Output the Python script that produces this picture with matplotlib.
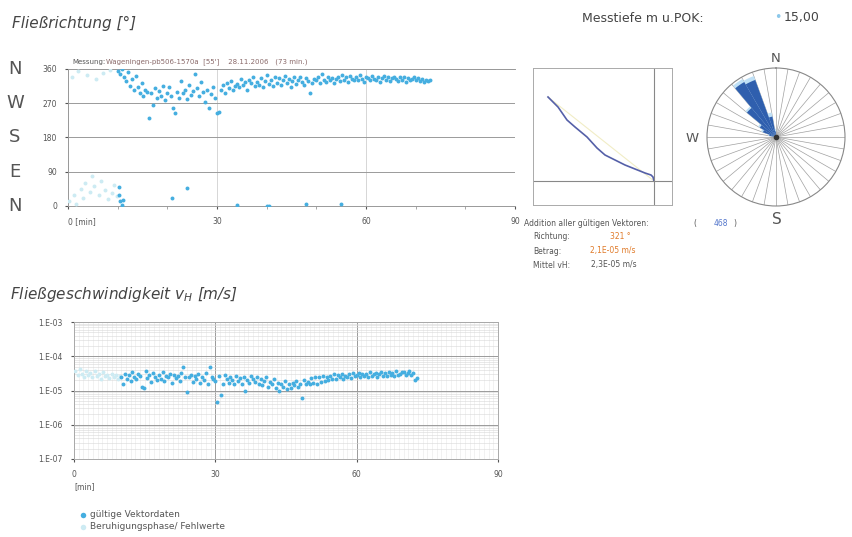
import numpy as np
import matplotlib.pyplot as plt
from matplotlib.ticker import MultipleLocator, LogLocator, NullFormatter

W, H = 853, 537


def fx(x):
    return x / W


def fy(y):
    return 1 - y / H


# ---- Daten: Messzeitpunkte [min] der gueltigen Vektoren
t_valid = [10.0, 10.4, 10.8, 11.2, 11.6, 12.0, 12.4, 12.8, 13.2, 13.6,
           14.0, 14.4, 14.8, 15.2, 15.6, 16.0, 16.4, 16.8, 17.2, 17.6,
           18.0, 18.4, 18.8, 19.2, 19.6, 20.0, 20.4, 20.8, 21.2, 21.6,
           22.0, 22.4, 22.8, 23.2, 23.6, 24.0, 24.4, 24.8, 25.2, 25.6,
           26.0, 26.4, 26.8, 27.2, 27.6, 28.0, 28.4, 28.8, 29.2, 29.6,
           30.0, 30.4, 30.8, 31.2, 31.6, 32.0, 32.4, 32.8, 33.2, 33.6,
           34.0, 34.4, 34.8, 35.2, 35.6, 36.0, 36.4, 36.8, 37.2, 37.6,
           38.0, 38.4, 38.8, 39.2, 39.6, 40.0, 40.4, 40.8, 41.2, 41.6,
           42.0, 42.4, 42.8, 43.2, 43.6, 44.0, 44.4, 44.8, 45.2, 45.6,
           46.0, 46.4, 46.8, 47.2, 47.6, 48.0, 48.4, 48.8, 49.2, 49.6,
           50.0, 50.4, 50.8, 51.2, 51.6, 52.0, 52.4, 52.8, 53.2, 53.6,
           54.0, 54.4, 54.8, 55.2, 55.6, 56.0, 56.4, 56.8, 57.2, 57.6,
           58.0, 58.4, 58.8, 59.2, 59.6, 60.0, 60.4, 60.8, 61.2, 61.6,
           62.0, 62.4, 62.8, 63.2, 63.6, 64.0, 64.4, 64.8, 65.2, 65.6,
           66.0, 66.4, 66.8, 67.2, 67.6, 68.0, 68.4, 68.8, 69.2, 69.6,
           70.0, 70.4, 70.8, 71.2, 71.6, 72.0, 72.4, 72.8]

# Fliessrichtung [deg]
dir_valid = [355, 346, 360, 338, 328, 352, 316, 334, 304, 342,
             312, 296, 322, 288, 305, 300, 232, 296, 265, 310,
             284, 302, 290, 316, 278, 298, 312, 288, 258, 245,
             300, 285, 328, 296, 306, 280, 318, 292, 302, 348,
             310, 288, 326, 300, 274, 306, 258, 295, 314, 284,
             245, 248, 305, 318, 296, 322, 310, 328, 304, 316,
             320, 312, 334, 318, 326, 306, 330, 322, 340, 316,
             326, 318, 336, 312, 328, 344, 320, 332, 316, 338,
             324, 336, 318, 330, 342, 322, 334, 312, 328, 338,
             320, 332, 340, 326, 318, 336, 328, 298, 322, 334,
             330, 338, 324, 346, 332, 326, 340, 330, 336, 322,
             334, 340, 328, 344, 332, 338, 326, 342, 334, 330,
             338, 330, 344, 334, 326, 340, 336, 330, 342, 334,
             332, 340, 326, 336, 342, 330, 338, 328, 336, 340,
             334, 328, 338, 332, 340, 326, 336, 330, 334, 338,
             330, 336, 328, 334, 326, 332, 328, 330]

# Fliessgeschwindigkeit [1e-5 m/s]
vel_valid = [2.4, 1.6, 3.0, 2.2, 2.8, 1.9, 3.4, 2.5, 2.1, 3.1,
             2.6, 1.3, 1.2, 3.6, 2.3, 2.9, 1.8, 3.3, 2.5, 2.0,
             2.9, 2.2, 3.5, 1.9, 2.7, 2.4, 3.1, 1.7, 2.8, 2.3,
             2.6, 1.9, 3.2, 5.0, 2.4, 0.9, 2.4, 2.9, 1.8, 2.6,
             2.1, 3.0, 1.7, 2.5, 2.0, 3.2, 1.5, 5.0, 2.4, 2.2,
             1.9, 0.45, 2.6, 0.75, 1.5, 2.9, 2.1, 1.7, 2.5, 2.0,
             1.6, 2.7, 1.9, 2.3, 1.5, 2.4, 0.95, 2.0, 1.7, 2.6,
             2.1, 1.8, 2.5, 1.5, 2.2, 1.4, 1.9, 2.4, 1.3, 1.8,
             1.5, 2.1, 1.2, 1.7, 1.0, 1.6, 1.3, 1.9, 1.1, 1.5,
             1.2, 1.7, 1.4, 1.9, 1.3, 1.6, 0.6, 2.0, 1.5, 1.8,
             1.5, 2.3, 1.7, 2.5, 1.6, 2.4, 1.8, 2.6, 1.9, 2.5,
             2.0, 2.7, 2.2, 3.0, 2.1, 2.8, 2.4, 3.1, 2.2, 2.7,
             2.4, 3.1, 2.3, 3.2, 2.6, 2.9, 3.3, 2.4, 3.0, 2.6,
             3.1, 2.5, 3.4, 2.6, 3.0, 3.3, 2.5, 3.1, 3.5, 2.7,
             3.2, 2.6, 3.5, 2.8, 3.3, 2.7, 3.6, 2.9, 3.1, 3.4,
             3.5, 2.8, 3.3, 3.6, 2.9, 3.2, 2.0, 2.3]

# gueltige Vektoren mit Richtung knapp ueber 0 deg
t_wrap = [10.2, 10.3, 10.5, 10.9, 11.1, 21.0, 24.0, 34.0, 40.0, 40.5, 48.0, 55.0]
dir_wrap = [50, 28, 12, 3, 17, 20, 46, 3, 1, 1, 4, 4]

# Beruhigungsphase / Fehlwerte
t_calm = [0.3, 0.8, 1.2, 1.7, 2.1, 2.6, 3.0, 3.5, 3.9, 4.4, 4.8,
          5.3, 5.7, 6.2, 6.6, 7.1, 7.5, 8.0, 8.4, 8.9, 9.3, 9.8]
dir_calm = [12, 340, 30, 5, 355, 45, 22, 60, 345, 38, 78,
            52, 335, 28, 65, 350, 42, 18, 358, 35, 55, 25]
vel_calm = [3.6, 2.8, 4.2, 3.1, 2.5, 3.8, 2.9, 3.3, 2.4, 3.6, 2.7,
            3.0, 2.2, 3.4, 2.6, 2.9, 2.3, 3.1, 2.5, 2.8, 2.1, 2.6]

# Richtungsrose (10 deg Klassen, relative Haeufigkeit)
rose_bins = [285, 295, 305, 315, 325, 335, 345, 355]
rose_valid = [0.10, 0.20, 0.27, 0.55, 0.92, 0.88, 0.30, 0.08]
rose_all = [0.12, 0.23, 0.30, 0.58, 0.97, 0.94, 0.36, 0.12]

# Progressives Vektordiagramm (Summe aller gueltigen Vektoren)
path_x = [0, -1, -3, -9, -19, -29, -39, -49, -57, -67, -79, -87, -96, -106]
path_y = [0, 4, 6, 8, 12, 16, 21, 26, 33, 44, 54, 61, 74, 84]

grey = '#555555'
blue = '#45aee0'
calm = '#cdebf3'

fig = plt.figure(figsize=(W / 100, H / 100), dpi=100)
fig.patch.set_facecolor('white')

# ---- Fliessrichtung
ax1 = fig.add_axes([fx(68), fy(206), fx(515) - fx(68), (206 - 69) / H])
ax1.scatter(t_calm, dir_calm, s=8, color=calm, lw=0, zorder=3)
ax1.scatter(t_valid, dir_valid, s=8, color=blue, lw=0, zorder=4)
ax1.scatter(t_wrap, dir_wrap, s=8, color=blue, lw=0, zorder=4)
ax1.set_xlim(0, 90)
ax1.set_ylim(0, 360)
ax1.set_yticks([0, 90, 180, 270, 360])
ax1.set_xticks([0, 30, 60, 90])
ax1.set_xticklabels(['0 [min]', '30', '60', '90'])
ax1.get_xticklabels()[0].set_ha('left')
ax1.xaxis.set_minor_locator(MultipleLocator(10))
ax1.tick_params(labelsize=5.5, colors=grey, length=2, pad=6)
ax1.tick_params(which='minor', length=2, color='#999999')
ax1.yaxis.grid(True, color='#9a9a9a', lw=0.7)
ax1.xaxis.grid(True, color='#d0d0d0', lw=0.6)
ax1.set_axisbelow(True)
for side in ['left', 'bottom', 'top']:
    ax1.spines[side].set_color('#999999')
    ax1.spines[side].set_linewidth(0.7)
ax1.spines['right'].set_visible(False)
for val, letter in zip([360, 270, 180, 90, 0], 'NWSEN'):
    ax1.annotate(letter, xy=(fx(15), val), xycoords=('figure fraction', 'data'),
                 ha='center', va='center', fontsize=13, color=grey)

fig.text(fx(12), fy(23), 'Fließrichtung [°]', fontsize=11, style='italic',
         color='#444444', va='center')
fig.text(fx(72), fy(62), 'Messung:', fontsize=5, color=grey, va='center')
fig.text(fx(106), fy(62), "Wageningen-pb506-1570a  [55']    28.11.2006   (73 min.)",
         fontsize=5, color='#8a6a6a', va='center')

# ---- Vektorsumme
ax2 = fig.add_axes([fx(533), fy(205), (672 - 533) / W, (205 - 68) / H])
ax2.plot([0, path_x[-1]], [0, path_y[-1]], color='#f1edc6', lw=0.8)
ax2.plot(path_x, path_y, color='#5560a8', lw=1.2)
ax2.axhline(0, color='#888888', lw=0.8)
ax2.axvline(0, color='#888888', lw=0.8)
ax2.set_xlim(-121, 18)
ax2.set_ylim(-24, 113)
ax2.set_xticks([])
ax2.set_yticks([])
for sp in ax2.spines.values():
    sp.set_color('#aaaaaa')
    sp.set_linewidth(0.7)

fig.text(fx(524), fy(223), 'Addition aller gültigen Vektoren:', fontsize=5.5,
         color=grey, va='center')
fig.text(fx(693), fy(223), '(', fontsize=5.5, color=grey, va='center')
fig.text(fx(714), fy(223), '468', fontsize=5.5, color='#5577cc', va='center')
fig.text(fx(733), fy(223), ')', fontsize=5.5, color=grey, va='center')
fig.text(fx(533), fy(237), 'Richtung:', fontsize=5.5, color=grey, va='center')
fig.text(fx(610), fy(237), '321 °', fontsize=5.5, color='#e07b2a', va='center')
fig.text(fx(533), fy(251), 'Betrag:', fontsize=5.5, color=grey, va='center')
fig.text(fx(590), fy(251), '2,1E-05 m/s', fontsize=5.5, color='#e07b2a', va='center')
fig.text(fx(533), fy(265), 'Mittel vH:', fontsize=5.5, color=grey, va='center')
fig.text(fx(591), fy(265), '2,3E-05 m/s', fontsize=5.5, color=grey, va='center')

# ---- Richtungsrose
ax3 = fig.add_axes([fx(707), fy(206), 138 / W, 138 / H], projection='polar')
ax3.set_theta_zero_location('N')
ax3.set_theta_direction(-1)
ax3.bar(np.deg2rad(rose_bins), rose_all, width=np.deg2rad(10), color='#bfe0f6',
        edgecolor='none', zorder=2)
ax3.bar(np.deg2rad(rose_bins), rose_valid, width=np.deg2rad(10), color='#2f5fae',
        edgecolor='none', zorder=3)
ax3.plot(0, 0, 'o', color='#333333', ms=3, zorder=4)
ax3.set_ylim(0, 1)
ax3.set_xticks(np.deg2rad(np.arange(0, 360, 10)))
ax3.set_xticklabels([])
ax3.set_yticks([])
ax3.xaxis.grid(True, color='#a0a0a0', lw=0.5)
ax3.spines['polar'].set_color('#888888')
ax3.spines['polar'].set_linewidth(0.8)
fig.text(fx(776), fy(58), 'N', fontsize=9.5, color=grey, ha='center', va='center')
fig.text(fx(777), fy(220), 'S', fontsize=11, color=grey, ha='center', va='center')
fig.text(fx(692), fy(138), 'W', fontsize=9.5, color=grey, ha='center', va='center')

fig.text(fx(582), fy(18), 'Messtiefe m u.POK:', fontsize=9, color='#444444', va='center')
fig.text(fx(778), fy(18), '•', fontsize=9, color='#8cc8ea', ha='center', va='center')
fig.text(fx(784), fy(18), '15,00', fontsize=9, color='#444444', va='center')

# ---- Fliessgeschwindigkeit
ax4 = fig.add_axes([fx(74), fy(459), (498 - 74) / W, (459 - 322) / H])
ax4.set_yscale('log')
p_calm = ax4.scatter(t_calm, np.array(vel_calm) * 1e-5, s=8, color=calm, lw=0, zorder=3)
p_valid = ax4.scatter(t_valid, np.array(vel_valid) * 1e-5, s=8, color=blue, lw=0, zorder=4)
ax4.set_xlim(0, 90)
ax4.set_ylim(1e-7, 1e-3)
ax4.set_yticks([1e-7, 1e-6, 1e-5, 1e-4, 1e-3])
ax4.set_yticklabels(['1.E-07', '1.E-06', '1.E-05', '1.E-04', '1.E-03'])
ax4.yaxis.set_minor_locator(LogLocator(base=10, subs=range(2, 10)))
ax4.yaxis.set_minor_formatter(NullFormatter())
ax4.set_xticks([0, 30, 60, 90])
ax4.xaxis.set_minor_locator(MultipleLocator(1))
ax4.tick_params(labelsize=5.5, colors=grey, length=2, pad=6)
ax4.tick_params(which='minor', length=0)
ax4.grid(True, which='major', color='#9a9a9a', lw=0.7)
ax4.yaxis.grid(True, which='minor', color='#d8d8d8', lw=0.4)
ax4.xaxis.grid(True, which='minor', color='#e8e8e8', lw=0.4)
ax4.set_axisbelow(True)
for sp in ax4.spines.values():
    sp.set_color('#aaaaaa')
    sp.set_linewidth(0.7)
fig.text(fx(74), fy(487), '[min]', fontsize=5.5, color=grey, va='center')

fig.text(fx(10), fy(295), 'Fließgeschwindigkeit v$_\\mathregular{H}$ [m/s]', fontsize=11,
         style='italic', color='#444444', va='center')

fig.legend([p_valid, p_calm], ['gültige Vektordaten', 'Beruhigungsphase/ Fehlwerte'],
           loc='upper left', bbox_to_anchor=(fx(70), fy(502)), frameon=False,
           fontsize=6.5, handletextpad=0.3, labelspacing=0.35, handlelength=1,
           markerscale=1.4, labelcolor=grey)

fig.savefig('out.png', dpi=100)
